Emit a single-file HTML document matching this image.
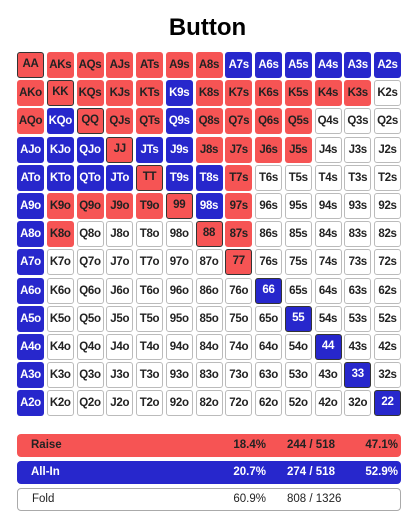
<!DOCTYPE html>
<html><head><meta charset="utf-8"><style>
body{margin:0;width:415px;height:515px;background:#fff;font-family:"Liberation Sans",Arial,sans-serif;position:relative;overflow:hidden}
#title{position:absolute;top:14px;left:0;width:415px;text-align:center;font-weight:bold;font-size:24px;color:#000}
.c{position:absolute;width:27px;height:26px;border-radius:3px;box-sizing:border-box;font-weight:bold;font-size:11.5px;line-height:26px;text-align:center;letter-spacing:-0.3px}
.R{background:#f65454;color:#222}
.B{background:#2727cc;color:#fff}
.W{background:#fff;color:#222;border:1px solid #bbb;line-height:24px}
.P{border:1.5px solid #333;line-height:23px}
.bar{position:absolute;left:17px;width:384px;height:23px;border-radius:4px;box-sizing:border-box;font-weight:bold;font-size:11.5px;line-height:23px}
.bar span{position:absolute}
</style></head><body>
<div id="title">Button</div>
<div id="grid"></div>
<div class="bar" style="top:434px;background:#f65454;color:#222"><span style="left:14px">Raise</span><span style="right:135px">18.4%</span><span style="left:270px">244 / 518</span><span style="right:3px">47.1%</span></div>
<div class="bar" style="top:461px;background:#2727cc;color:#fff"><span style="left:14px">All-In</span><span style="right:135px">20.7%</span><span style="left:270px">274 / 518</span><span style="right:3px">52.9%</span></div>
<div class="bar" style="top:488px;background:#fff;color:#222;border:1px solid #aaa;line-height:21px;font-weight:normal"><span style="left:14px">Fold</span><span style="right:134px">60.9%</span><span style="left:269px">808 / 1326</span></div>
<script>
const ranks=["A","K","Q","J","T","9","8","7","6","5","4","3","2"];
const actions=[
"RRRRRRRBBBBBB",
"RRRRRBRRRRRRW",
"RBRRRBRRRRWWW",
"BBBRBBRRRRWWW",
"BBBBRBBRWWWWW",
"BRRRRRBRWWWWW",
"BRWWWWRRWWWWW",
"BWWWWWWRWWWWW",
"BWWWWWWWBWWWW",
"BWWWWWWWWBWWW",
"BWWWWWWWWWBWW",
"BWWWWWWWWWWBW",
"BWWWWWWWWWWWB"];
const g=document.getElementById('grid');
for(let i=0;i<13;i++)for(let j=0;j<13;j++){
  const d=document.createElement('div');
  let lab=i==j?ranks[i]+ranks[j]:(j>i?ranks[i]+ranks[j]+"s":ranks[j]+ranks[i]+"o");
  d.className='c '+actions[i][j]+(i==j?' P':'');
  d.style.left=(17+j*29.75)+'px';d.style.top=(52+i*28.2)+'px';
  d.textContent=lab;
  
  
  g.appendChild(d);
}
</script>
</body></html>
